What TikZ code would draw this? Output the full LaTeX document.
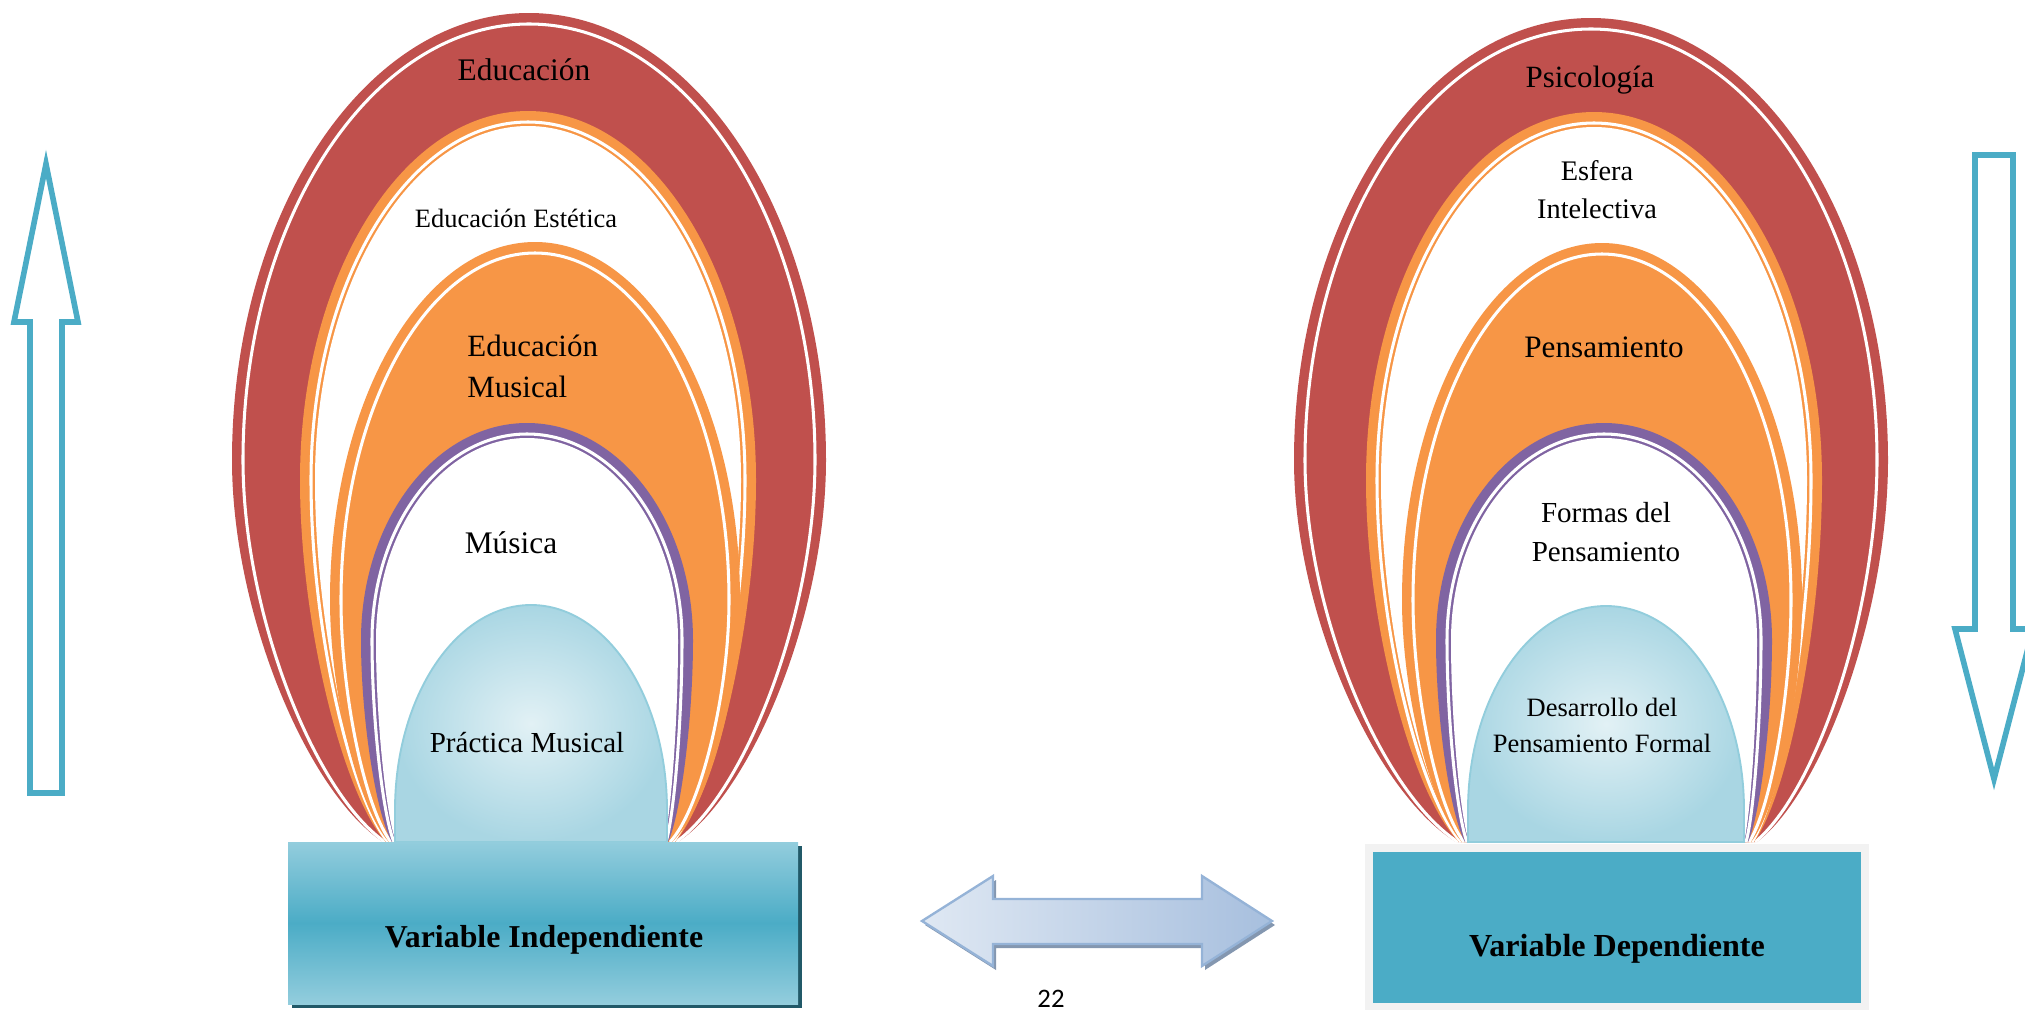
\documentclass[tikz,border=0pt]{standalone}
\usepackage{fontspec}
\setmainfont{Liberation Serif}
\newfontfamily\pagenumfont{Carlito}

\definecolor{archred}{HTML}{C0504D}
\definecolor{archorange}{HTML}{F79646}
\definecolor{archpurple}{HTML}{8064A2}
\definecolor{vteal}{HTML}{4BACC6}
\definecolor{vlight}{HTML}{93CDDD}
\definecolor{vshadow}{HTML}{215968}
\definecolor{egglight}{HTML}{E2F1F5}
\definecolor{eggdark}{HTML}{A9D6E3}
\definecolor{eggline}{HTML}{92CDDC}
\definecolor{dblline}{HTML}{95B3D7}
\definecolor{dbllight}{HTML}{DFE8F3}
\definecolor{dbldark}{HTML}{A7BFDE}
\definecolor{dblshadow}{HTML}{8497B0}
\definecolor{boxgray}{HTML}{F2F2F2}

\tikzset{
  lbl/.style={inner sep=0pt, anchor=base},
  twoline/.style={inner sep=0pt, align=center},
  eggstyle/.style={draw=eggline, line width=0.8pt, inner color=egglight, outer color=eggdark},
  hollowarrow/.style={draw=vteal, line width=2.4pt, fill=white, line join=miter}
}

\def\baseY{842}

% arch: style, cx, cy, rx, top, left base, right base
\newcommand\archshape[7]{%
  \path[#1] ({#6},\baseY)
    .. controls ({(#6+#2-(#4))/2},{\baseY-0.13*(\baseY-(#3))}) and ({#2-(#4)},{#3+0.4*(\baseY-(#3))}) .. ({#2-(#4)},{#3})
    arc[start angle=180, end angle=360, x radius={#4}, y radius={#3-(#5)}]
    .. controls ({#2+(#4)},{#3+0.4*(\baseY-(#3))}) and ({(#7+#2+(#4))/2},{\baseY-0.13*(\baseY-(#3))}) .. ({#7},\baseY);}
% coloured band with a white line inside its edge
\newcommand\bandlayer[7]{%
  \archshape{fill=#1}{#2}{#3}{#4}{#5}{#6}{#7}
  \archshape{draw=white, line width=1.3pt}{#2}{#3}{#4-11}{#5+11}{#6+2}{#7-2}}
% same, but hollow (white inside)
\newcommand\ringlayer[7]{%
  \bandlayer{#1}{#2}{#3}{#4}{#5}{#6}{#7}
  \archshape{fill=white}{#2}{#3}{#4-15}{#5+15}{#6+4}{#7-4}}
% egg: cx, rx, top
\newcommand\eggshape[3]{%
  \path[eggstyle] ({#1-(#2)},\baseY) -- ({#1-(#2)},810)
    arc[start angle=180, end angle=360, x radius={#2}, y radius={810-(#3)}] -- ({#1+(#2)},\baseY) -- cycle;}

\begin{document}
\begin{tikzpicture}[x=0.015cm, y=-0.015cm]
\useasboundingbox (0,0) rectangle (2025,1010);

% side arrows
\draw[hollowarrow] (46,164) -- (78,322) -- (62,322) -- (62,793) -- (30,793) -- (30,322) -- (14,322) -- cycle;
\draw[hollowarrow] (1975,155) -- (2013,155) -- (2013,629) -- (2033,629) -- (1994,779) -- (1955,629) -- (1975,629) -- cycle;

% left arches
\bandlayer{archred}{529}{460}{297}{13}{383}{678}
\ringlayer{archorange}{528}{480}{228}{111}{386}{675}
\bandlayer{archorange}{535}{600}{205}{242}{389}{672}
\ringlayer{archpurple}{527}{640}{166}{423}{392}{668}
\eggshape{531}{136}{605}

% right arches
\bandlayer{archred}{1591}{460}{297}{18}{1456}{1757}
\ringlayer{archorange}{1594}{480}{228}{112}{1459}{1754}
\bandlayer{archorange}{1602}{600}{200}{243}{1462}{1751}
\ringlayer{archpurple}{1604}{640}{168}{423}{1465}{1748}
\eggshape{1606}{138}{606}

% variable boxes
\fill[vshadow] (292,846) rectangle (802,1008);
\shade[top color=vlight, bottom color=vlight, middle color=vteal] (288,842) rectangle (798,1004);
\fill[boxgray] (1365,844) rectangle (1869,1010);
\fill[vteal] (1373,852) rectangle (1861,1003);

% double arrow
\fill[dblshadow] (925,925) -- (996,880) -- (996,903) -- (1205,903) -- (1205,880) -- (1275,925)
  -- (1205,970) -- (1205,948) -- (996,948) -- (996,970) -- cycle;
\path[draw=dblline, line width=1pt, left color=dbllight, right color=dbldark]
  (922,921) -- (993,876) -- (993,899) -- (1202,899) -- (1202,876) -- (1272,921)
  -- (1202,966) -- (1202,944) -- (993,944) -- (993,966) -- cycle;

% labels, left
\node[lbl, font=\fontsize{13.4}{17}\selectfont] (edu) at (524,80) {Educación};
\node[lbl, font=\fontsize{11.3}{14}\selectfont] (estetica) at (516,227) {Educación Estética};
\node[inner sep=0pt, align=left, anchor=west, font=\fontsize{13.2}{17.5}\selectfont] (edmusical) at (467,366) {Educación\\Musical};
\node[lbl, font=\fontsize{13.4}{17}\selectfont] (musica) at (511,553) {Música};
\node[lbl, font=\fontsize{12.4}{16}\selectfont] (practica) at (527,752) {Práctica Musical};
\node[lbl, font=\fontsize{13.6}{17}\selectfont\bfseries] (varind) at (544,947) {Variable Independiente};

% labels, right
\node[lbl, font=\fontsize{13.2}{17}\selectfont] (psico) at (1590,87) {Psicología};
\node[twoline, font=\fontsize{12.1}{16.2}\selectfont] (esfera) at (1597,190) {Esfera\\Intelectiva};
\node[lbl, font=\fontsize{13.3}{17}\selectfont] (pensam) at (1604,357) {Pensamiento};
\node[twoline, font=\fontsize{12.4}{16.6}\selectfont] (formas) at (1606,532) {Formas del\\Pensamiento};
\node[twoline, font=\fontsize{11.3}{15.4}\selectfont] (desarrollo) at (1602,725) {Desarrollo del\\Pensamiento Formal};
\node[lbl, font=\fontsize{13.7}{17}\selectfont\bfseries] (vardep) at (1617,956) {Variable Dependiente};

% page number
\node[lbl, font=\pagenumfont\fontsize{11.4}{14}\selectfont] (pagenum) at (1051,1007) {22};
\end{tikzpicture}
\end{document}
